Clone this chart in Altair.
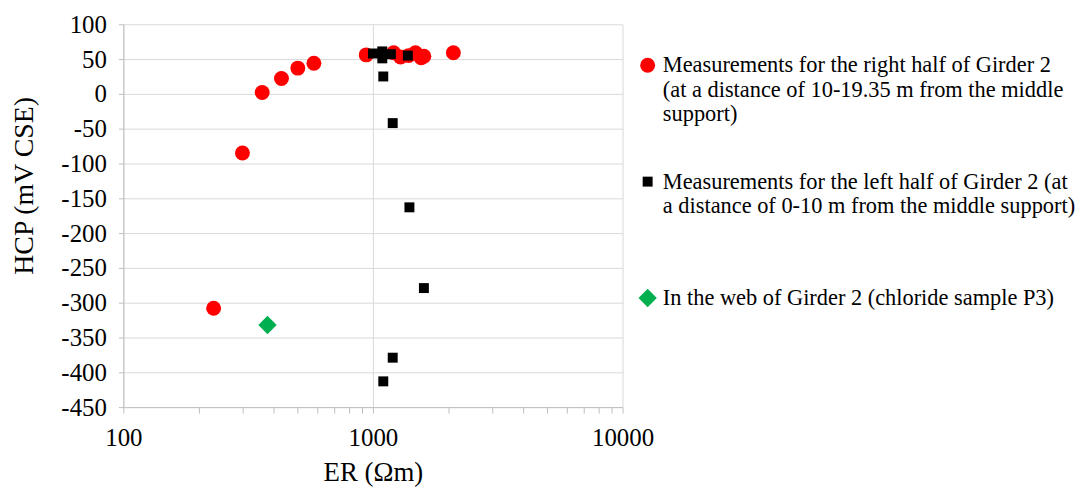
import altair as alt
import pandas as pd

# ---- data ----
right_er = [230, 300, 360, 430, 500, 580, 940, 1210, 1290, 1390, 1480, 1560, 1600, 2100]
right_hcp = [-308, -85, 2, 22, 37, 44, 56, 59, 53, 55, 59, 52, 54, 59]
left_er = [1000, 1090, 1090, 1180, 1380, 1100, 1200, 1400, 1600, 1200, 1100]
left_hcp = [58, 61, 51, 57, 55, 25, -42, -163, -279, -379, -413]
web_er = [378]
web_hcp = [-332]

series = ["right", "left", "web"]
series_lines = [
    ["Measurements for the right half of Girder 2",
     "(at a distance of 10-19.35 m from the middle",
     "support)"],
    ["Measurements for the left half of Girder 2 (at",
     "a distance of 0-10 m from the middle support)"],
    ["In the web of Girder 2 (chloride sample P3)"],
]
colors = ["#FF0000", "#000000", "#00B050"]
shapes = ["circle", "square", "diamond"]
sizes = [225, 100, 340]

x_ticks = [100, 200, 300, 400, 500, 600, 700, 800, 900,
           1000, 2000, 3000, 4000, 5000, 6000, 7000, 8000, 9000, 10000]
x_major = [100, 1000, 10000]
y_ticks = list(range(-450, 101, 50))

x_title = "ER (Ωm)"
y_title = "HCP (mV CSE)"

# ---- build table ----
rows = []
for s, ers, hcps in zip(series, [right_er, left_er, web_er], [right_hcp, left_hcp, web_hcp]):
    for e, h in zip(ers, hcps):
        rows.append({"series": s, "ER": e, "HCP": h})
df = pd.DataFrame(rows)

FONT = "Liberation Serif"

# legend label expression (multi-line labels, padded to equal height except last)
nlines = max(len(l) for l in series_lines)
def js_arr(lines):
    return "[" + ",".join("'" + t.replace("'", "\\'") + "'" for t in lines) + "]"
parts = []
for i, (s, lines) in enumerate(zip(series, series_lines)):
    padded = list(lines)
    if i < len(series) - 1:
        padded += [""] * (nlines - len(lines))
    parts.append(f"datum.label == '{s}' ? {js_arr(padded)}")
legend_expr = " : ".join(parts) + " : datum.label"

major_test = " || ".join(f"datum.value == {v}" for v in x_major)

legend = alt.Legend(
    title=None, orient="none", legendX=516, legendY=30,
    labelExpr=legend_expr, labelFont=FONT, labelFontSize=22.5, labelColor="#000000",
    labelLimit=1000, labelBaseline="middle", labelOffset=4,
    rowPadding=45, symbolStrokeWidth=0, symbolOpacity=1,
)

chart = alt.Chart(df).mark_point(filled=True, opacity=1, strokeWidth=0).encode(
    x=alt.X("ER:Q",
            scale=alt.Scale(type="log", domain=[100, 10000], nice=False),
            axis=alt.Axis(values=x_ticks, title=x_title,
                          labelExpr=f"({major_test}) ? datum.value + '' : ''",
                          labelFont=FONT, labelFontSize=25, labelColor="#000000",
                          titleFont=FONT, titleFontSize=27, titleFontWeight="normal",
                          titleColor="#000000", titlePadding=9,
                          grid=True, gridColor="#d9d9d9", gridWidth=1,
                          gridOpacity={"condition": {"test": major_test, "value": 1}, "value": 0},
                          domainColor="#bfbfbf", tickColor="#bfbfbf", tickSize=6,
                          labelPadding=13, labelFlush=False, labelOverlap=False)),
    y=alt.Y("HCP:Q",
            scale=alt.Scale(domain=[-450, 100], nice=False, zero=False),
            axis=alt.Axis(values=y_ticks, title=y_title,
                          labelExpr="datum.value + ''",
                          labelFont=FONT, labelFontSize=25, labelColor="#000000",
                          titleFont=FONT, titleFontSize=28, titleFontWeight="normal",
                          titleColor="#000000", titlePadding=23, titleY=162,
                          grid=True, gridColor="#d9d9d9", gridWidth=1,
                          domainColor="#bfbfbf", tickColor="#bfbfbf", tickSize=5,
                          labelPadding=12, labelOverlap=False)),
    color=alt.Color("series:N", scale=alt.Scale(domain=series, range=colors), legend=legend),
    shape=alt.Shape("series:N", scale=alt.Scale(domain=series, range=shapes), legend=legend),
    size=alt.Size("series:N", scale=alt.Scale(type="ordinal", domain=series, range=sizes), legend=legend),
    order=alt.Order("ord:Q"),
).transform_calculate(
    ord="indexof(" + js_arr(series) + ", datum.series)"
).properties(
    width=502, height=385,
    autosize=alt.AutoSizeParams(type="none"),
    padding={"left": 116, "top": 15, "right": 455, "bottom": 82},
).configure_view(strokeWidth=0)

chart.save("out.html", embed_options={"renderer": "svg", "actions": False})
